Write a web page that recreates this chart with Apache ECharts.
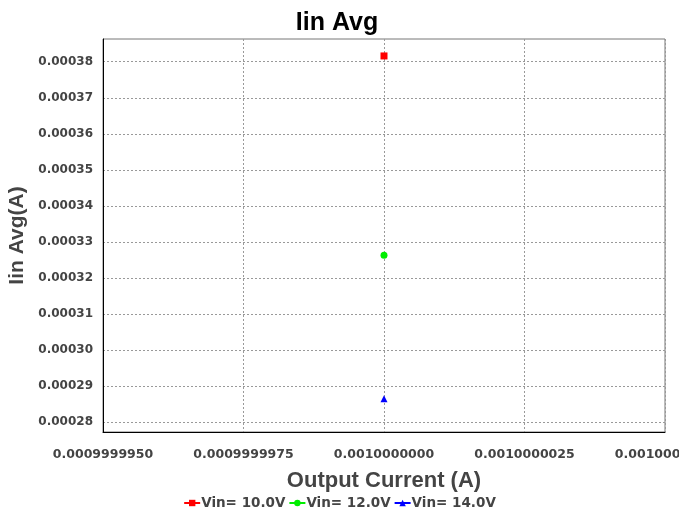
<!DOCTYPE html>
<html><head><meta charset="utf-8">
<script src="https://cdn.jsdelivr.net/npm/echarts@6/dist/echarts.min.js"></script>
<style>html,body{margin:0;padding:0;background:#fff;overflow:hidden}#c{width:679px;height:515px}</style>
</head><body><div id="c"></div>
<script>
const seriesNames = ['Vin= 10.0V', 'Vin= 12.0V', 'Vin= 14.0V'];
const xValues = [0.001, 0.001, 0.001];
const yValues = [0.0003816, 0.0003263, 0.0002865];
const colors = ['#ff0000', '#00ee00', '#0000ff'];
const symbols = ['rect', 'circle', 'triangle'];
const yTicks = [0.00028, 0.00029, 0.00030, 0.00031, 0.00032, 0.00033, 0.00034, 0.00035, 0.00036, 0.00037, 0.00038];
const xTicks = [0.000999995, 0.0009999975, 0.001, 0.0010000025, 0.001000005];
const yMin = 0.0002773, yMax = 0.0003863;
const xMin = 0.000999995, xMax = 0.001000005;

const chart = echarts.init(document.getElementById('c'));
const arial = 'Liberation Sans, Arial, sans-serif';
const wide = 'DejaVu Sans, sans-serif';
chart.setOption({
  animation: false,
  title: { text: 'Iin Avg', left: 332, textAlign: 'center', top: 6,
    textStyle: { fontFamily: arial, fontWeight: 'bold', fontSize: 25, color: '#000' } },
  legend: { top: 491, left: 'center', itemWidth: 16, itemHeight: 8, itemGap: 3,
    textStyle: { fontFamily: wide, fontWeight: 'bold', fontSize: 13.5, color: '#444', padding: [0,0,0,-4] },
    data: seriesNames },
  grid: { left: 103, right: 14, top: 39, bottom: 83, show: true, borderColor: '#777', borderWidth: 1,
    outerBoundsMode: 'none' },
  xAxis: { type: 'value', min: xMin, max: xMax,
    name: 'Output Current (A)', nameLocation: 'middle', nameGap: 38,
    nameTextStyle: { fontFamily: arial, fontWeight: 'bold', fontSize: 22, color: '#444' },
    axisLine: { lineStyle: { color: '#000', width: 1 } },
    axisTick: { show: false, customValues: xTicks },
    axisLabel: { fontFamily: wide, fontWeight: 'bold', fontSize: 12.5, color: '#444', margin: 16,
      customValues: xTicks, formatter: v => v.toFixed(10) },
    splitLine: { lineStyle: { color: '#999', type: [2, 2] } } },
  yAxis: { type: 'value', min: yMin, max: yMax,
    name: 'Iin Avg(A)', nameLocation: 'middle', nameGap: 66,
    nameTextStyle: { fontFamily: arial, fontWeight: 'bold', fontSize: 21, color: '#444' },
    axisLine: { show: true, lineStyle: { color: '#000', width: 1 } },
    axisTick: { show: false, customValues: yTicks },
    axisLabel: { fontFamily: wide, fontWeight: 'bold', fontSize: 12, color: '#444', margin: 10,
      customValues: yTicks, formatter: v => v.toFixed(5) },
    splitLine: { lineStyle: { color: '#999', type: [2, 2] } } },
  series: seriesNames.map((n, i) => ({
    name: n, type: 'line', data: [[xValues[i], yValues[i]]],
    symbol: symbols[i], symbolSize: 7, showSymbol: true,
    itemStyle: { color: colors[i] }, lineStyle: { color: colors[i], width: 3 }
  }))
});
</script></body></html>
